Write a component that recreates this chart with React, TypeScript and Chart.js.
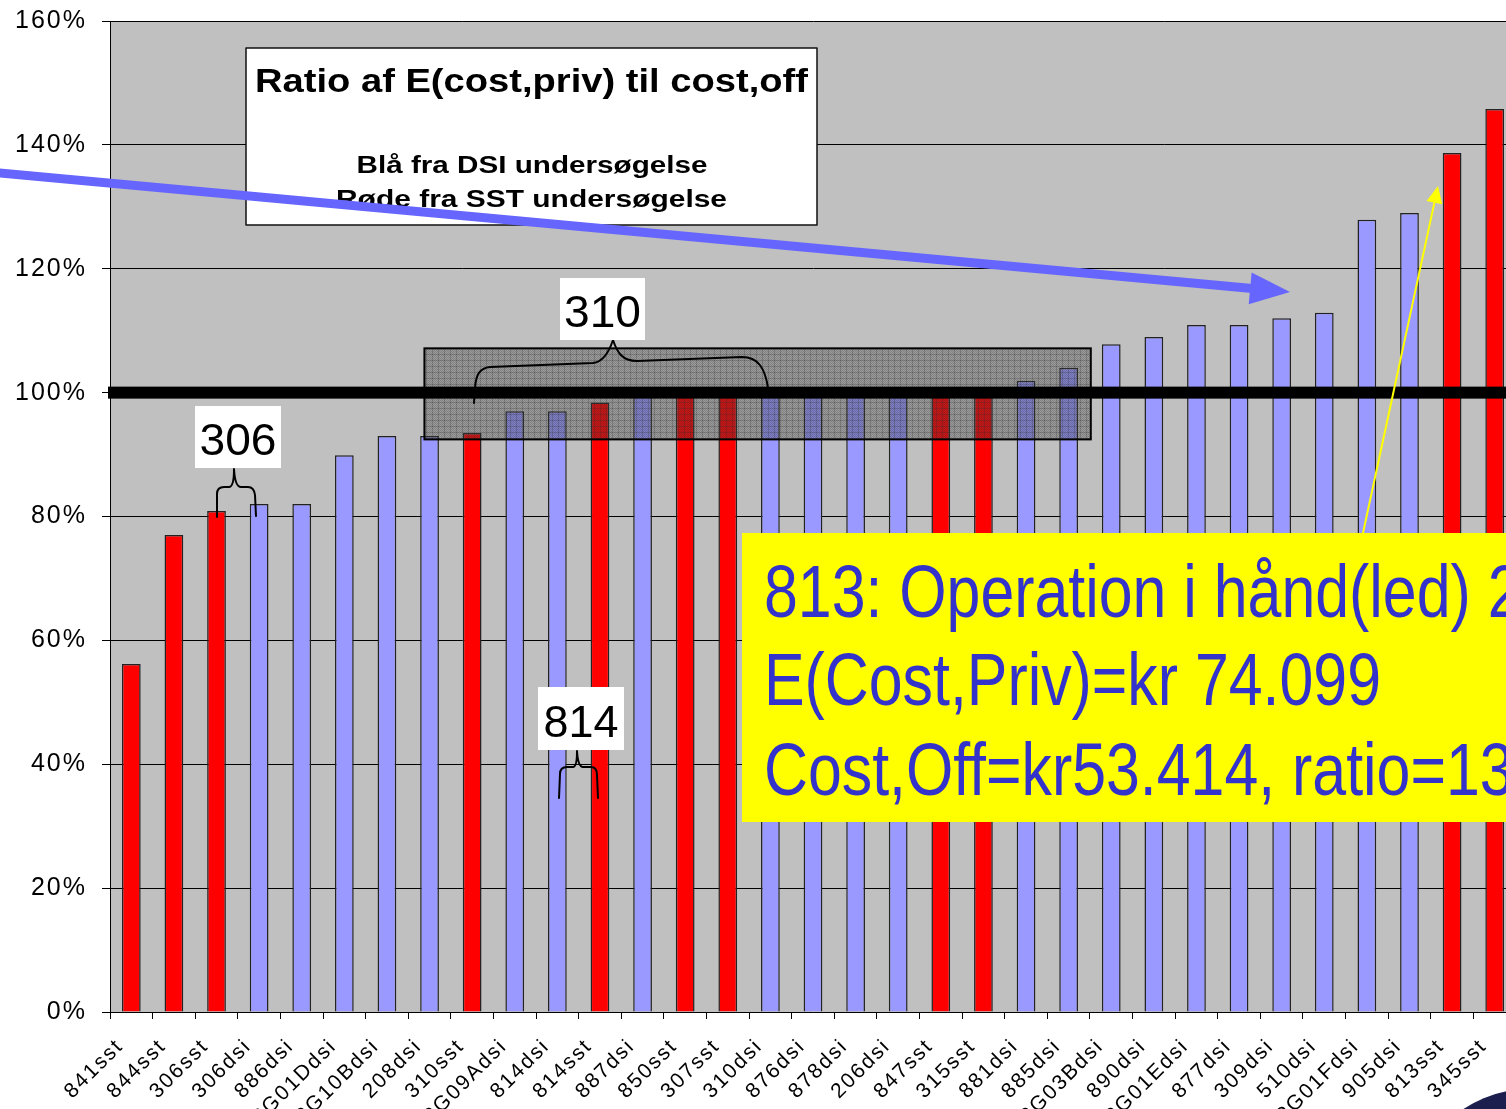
import React, { useEffect, useRef } from "react";
import { Chart, registerables } from "chart.js";

Chart.register(...registerables);

// ---------- data ----------
const categories = [
  "841sst", "844sst", "306sst", "306dsi", "886dsi", "PG01Ddsi", "PG10Bdsi", "208dsi",
  "310sst", "PG09Adsi", "814dsi", "814sst", "887dsi", "850sst", "307sst", "310dsi",
  "876dsi", "878dsi", "206dsi", "847sst", "315sst", "881dsi", "885dsi", "PG03Bdsi",
  "890dsi", "PG01Edsi", "877dsi", "309dsi", "510dsi", "PG01Fdsi", "905dsi", "813sst", "345sst",
];
const ratios = [
  56.2, 77.0, 80.9, 82.0, 82.0, 89.9, 93.0, 93.0,
  93.5, 97.0, 97.0, 98.4, 99.6, 99.8, 100.0, 100.0,
  100.0, 100.0, 100.0, 100.0, 100.0, 101.9, 104.0, 107.8,
  109.0, 110.9, 110.9, 112.0, 112.9, 127.9, 129.0, 138.7, 145.8,
];
const yMin = 0;
const yMax = 160;
const yStep = 20;
const referenceLevel = 100;

const titleLines = ["Ratio af E(cost,priv) til cost,off", "Blå fra DSI undersøgelse", "Røde fra SST undersøgelse"];
const calloutLines = ["813: Operation i hånd(led) 2", "E(Cost,Priv)=kr 74.099", "Cost,Off=kr53.414, ratio=139%"];
const groupLabels = ["306", "310", "814"];

const RED = "#FF0000";
const BLUE = "#9999FF";
const CANVAS_W = 1516;
const CANVAS_H = 1109;
const AXIS_LEFT = 110;
const PLOT_TOP = 21;
const PLOT_BOTTOM = 1012;

function makePattern(ctx: CanvasRenderingContext2D) {
  const pc = document.createElement("canvas");
  pc.width = 6;
  pc.height = 6;
  const p = pc.getContext("2d")!;
  p.fillStyle = "rgba(70,70,70,0.30)";
  p.fillRect(0, 0, 6, 6);
  p.fillStyle = "rgba(40,40,40,0.22)";
  for (let i = 0; i < 6; i++) for (let j = 0; j < 6; j++) if ((i + j) % 2 === 0) p.fillRect(i, j, 1, 1);
  p.fillStyle = "rgba(40,40,40,0.22)";
  p.fillRect(0, 0, 6, 1);
  p.fillRect(0, 0, 1, 6);
  return ctx.createPattern(pc, "repeat");
}

function drawFitted(
  ctx: CanvasRenderingContext2D, text: string, cx: number, baseline: number,
  targetW: number, font: string, color: string
) {
  ctx.save();
  ctx.font = font;
  ctx.fillStyle = color;
  ctx.textAlign = "left";
  ctx.textBaseline = "alphabetic";
  const w = ctx.measureText(text).width;
  const sx = targetW / w;
  ctx.translate(cx - targetW / 2, baseline);
  ctx.scale(sx, 1);
  ctx.fillText(text, 0, 0);
  ctx.restore();
}

function arrow(ctx: CanvasRenderingContext2D, x0: number, y0: number, tx: number, ty: number,
  lw: number, headL: number, headW: number, color: string) {
  const dx = tx - x0, dy = ty - y0;
  const len = Math.hypot(dx, dy);
  const ux = dx / len, uy = dy / len;
  const bx = tx - ux * headL, by = ty - uy * headL;
  ctx.save();
  ctx.strokeStyle = color;
  ctx.fillStyle = color;
  ctx.lineWidth = lw;
  ctx.beginPath();
  ctx.moveTo(x0, y0);
  ctx.lineTo(bx + ux * 2, by + uy * 2);
  ctx.stroke();
  ctx.beginPath();
  ctx.moveTo(tx, ty);
  ctx.lineTo(bx - uy * headW, by + ux * headW);
  ctx.lineTo(bx + uy * headW, by - ux * headW);
  ctx.closePath();
  ctx.fill();
  ctx.restore();
}

const bgPlugin = {
  id: "bgPlugin",
  beforeDraw(chart: any) {
    const { ctx, chartArea: a } = chart;
    ctx.save();
    ctx.fillStyle = "#C0C0C0";
    ctx.fillRect(a.left, a.top, a.right - a.left, a.bottom - a.top);
    ctx.restore();
    (ctx as any).letterSpacing = "2px";
  },
};

const annotationPlugin = {
  id: "annotationPlugin",
  afterDraw(chart: any) {
    const ctx: CanvasRenderingContext2D = chart.ctx;
    const xs = chart.scales.x;
    const ys = chart.scales.y;
    const a = chart.chartArea;
    ctx.save();
    (ctx as any).letterSpacing = "0px";

    // hatched box around the ~100% group
    const hx1 = xs.getPixelForValue(6.88);
    const hx2 = xs.getPixelForValue(22.52);
    const hy1 = ys.getPixelForValue(107.15);
    const hy2 = ys.getPixelForValue(92.45);
    const pat = makePattern(ctx);
    if (pat) {
      ctx.fillStyle = pat;
      ctx.fillRect(hx1, hy1, hx2 - hx1, hy2 - hy1);
    }
    ctx.strokeStyle = "#000";
    ctx.lineWidth = 2;
    ctx.strokeRect(hx1, hy1, hx2 - hx1, hy2 - hy1);

    // thick 100% line
    const y100 = ys.getPixelForValue(referenceLevel);
    ctx.fillStyle = "#000";
    ctx.fillRect(a.left - 2, y100 - 6, CANVAS_W - a.left + 2, 12);

    // braces
    ctx.strokeStyle = "#000";
    ctx.lineWidth = 2;
    ctx.lineCap = "round";
    ctx.lineJoin = "round";
    // 306
    ctx.beginPath();
    ctx.moveTo(217, 517);
    ctx.lineTo(217, 494);
    ctx.quadraticCurveTo(217, 487, 224, 487);
    ctx.lineTo(229, 487);
    ctx.quadraticCurveTo(234, 487, 234, 469);
    ctx.quadraticCurveTo(235, 487, 241, 487);
    ctx.lineTo(248, 487);
    ctx.quadraticCurveTo(254, 487, 255, 495);
    ctx.lineTo(256, 516);
    ctx.stroke();
    // 814
    ctx.beginPath();
    ctx.moveTo(559, 798);
    ctx.lineTo(560, 774);
    ctx.quadraticCurveTo(560, 767, 567, 767);
    ctx.lineTo(573, 767);
    ctx.quadraticCurveTo(577, 767, 577, 751);
    ctx.quadraticCurveTo(578, 767, 583, 767);
    ctx.lineTo(591, 767);
    ctx.quadraticCurveTo(597, 767, 597, 775);
    ctx.lineTo(598, 798);
    ctx.stroke();
    // 310
    ctx.beginPath();
    ctx.moveTo(474, 403);
    ctx.lineTo(475, 388);
    ctx.bezierCurveTo(476, 374, 480, 368, 490, 367);
    ctx.lineTo(593, 363);
    ctx.bezierCurveTo(603, 362, 609, 352, 613, 340);
    ctx.bezierCurveTo(617, 352, 622, 361, 637, 361);
    ctx.lineTo(742, 357);
    ctx.bezierCurveTo(758, 357, 765, 368, 768, 388);
    ctx.stroke();

    // group label boxes
    const boxes = [
      { t: groupLabels[0], x: 195, y: 406, w: 86, h: 62, base: 455, tw: 77 },
      { t: groupLabels[1], x: 560, y: 278, w: 85, h: 62, base: 327, tw: 77 },
      { t: groupLabels[2], x: 538, y: 687, w: 86, h: 63, base: 737, tw: 75 },
    ];
    for (const b of boxes) {
      ctx.fillStyle = "#FFFFFF";
      ctx.fillRect(b.x, b.y, b.w, b.h);
      drawFitted(ctx, b.t, b.x + b.w / 2, b.base, b.tw, "45px 'Liberation Sans', Arial, sans-serif", "#000");
    }

    // title box
    ctx.fillStyle = "#FFFFFF";
    ctx.fillRect(246, 48, 571, 177);
    ctx.strokeStyle = "#111";
    ctx.lineWidth = 1.5;
    ctx.strokeRect(246, 48, 571, 177);
    drawFitted(ctx, titleLines[0], 531.5, 92, 553, "bold 33px 'Liberation Sans', Arial, sans-serif", "#000");
    drawFitted(ctx, titleLines[1], 532, 173, 351, "bold 23px 'Liberation Sans', Arial, sans-serif", "#000");
    drawFitted(ctx, titleLines[2], 531.5, 207, 391, "bold 23px 'Liberation Sans', Arial, sans-serif", "#000");

    // blue arrow
    arrow(ctx, -10, 172, 1290, 292, 9, 40, 16, "#6666FF");

    // yellow callout
    ctx.fillStyle = "#FFFF00";
    ctx.fillRect(742, 533, CANVAS_W - 742, 289);
    ctx.font = "74px 'Liberation Sans Narrow', 'Arial Narrow', 'Liberation Sans', Arial, sans-serif";
    const sx = 617 / ctx.measureText(calloutLines[1]).width;
    ctx.fillStyle = "#3333CC";
    ctx.textAlign = "left";
    ctx.textBaseline = "alphabetic";
    const bases = [617, 705, 795];
    calloutLines.forEach((line, i) => {
      ctx.save();
      ctx.translate(764, bases[i]);
      ctx.scale(sx, 1);
      ctx.fillText(line, 0, 0);
      ctx.restore();
    });

    // yellow arrow pointing to 813sst
    arrow(ctx, 1363, 533, 1438, 186, 2, 17, 8, "#FFFF00");

    // corner logo fragment
    ctx.fillStyle = "#1c1f4d";
    ctx.beginPath();
    ctx.arc(1530, 1210, 121, 0, Math.PI * 2);
    ctx.fill();

    ctx.restore();
  },
};

export default function App() {
  const ref = useRef<HTMLCanvasElement | null>(null);

  useEffect(() => {
    if (!ref.current) return;
    const chart = new Chart(ref.current, {
      type: "bar",
      data: {
        labels: categories,
        datasets: [
          {
            data: ratios,
            backgroundColor: categories.map((c) => (c.endsWith("sst") ? RED : BLUE)),
            borderColor: "#222",
            borderWidth: 1.5,
            barPercentage: 0.44,
            categoryPercentage: 1,
          },
        ],
      },
      options: {
        animation: false,
        responsive: false,
        devicePixelRatio: 1,
        layout: { padding: { top: PLOT_TOP, left: 0, right: 0, bottom: 0 } },
        plugins: { legend: { display: false }, tooltip: { enabled: false } },
        scales: {
          x: {
            offset: true,
            grid: { drawOnChartArea: false, drawTicks: true, tickLength: 7, color: "#000" },
            border: { color: "#000", width: 1 },
            ticks: {
              autoSkip: false,
              maxRotation: 45,
              minRotation: 45,
              padding: 15,
              labelOffset: -11,
              color: "#000",
              font: { family: "'Liberation Sans', Arial, sans-serif", size: 21 },
            },
            afterFit: (s: any) => {
              s.height = CANVAS_H - PLOT_BOTTOM;
              s.paddingLeft = 0;
              s.paddingRight = 0;
              s.paddingTop = 0;
              s.paddingBottom = 0;
            },
          },
          y: {
            min: yMin,
            max: yMax,
            ticks: {
              stepSize: yStep,
              padding: 15,
              color: "#000",
              font: { family: "'Liberation Sans', Arial, sans-serif", size: 25 },
              callback: (v: any) => `${v}%`,
            },
            grid: { color: "#000", lineWidth: 1, tickLength: 8 },
            border: { color: "#000", width: 1 },
            afterFit: (s: any) => {
              s.width = AXIS_LEFT;
              s.paddingTop = 0;
              s.paddingBottom = 0;
              s.paddingLeft = 0;
              s.paddingRight = 0;
            },
          },
        },
      },
      plugins: [bgPlugin, annotationPlugin],
    });
    return () => chart.destroy();
  }, []);

  return (
    <div
      style={{
        position: "absolute",
        left: 0,
        top: 0,
        width: 1506,
        height: 1109,
        overflow: "hidden",
        background: "#fff",
      }}
    >
      <canvas ref={ref} width={CANVAS_W} height={CANVAS_H} style={{ display: "block" }} />
    </div>
  );
}
